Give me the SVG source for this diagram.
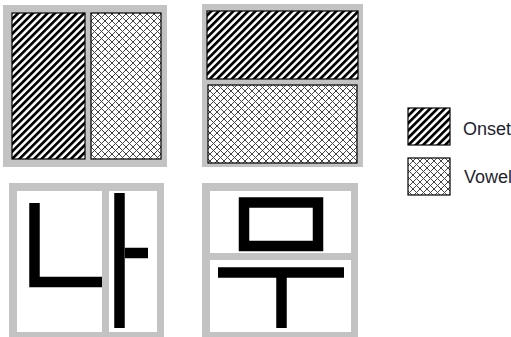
<svg xmlns="http://www.w3.org/2000/svg" width="511" height="337" viewBox="0 0 511 337">
  <style>
    .frame { fill: #c3c3c3; }
    .cell { fill: #ffffff; }
    .onset { fill: url(#hatch); stroke: #000; stroke-width: 1.2; }
    .vowel { fill: url(#cross); stroke: #000; stroke-width: 1.2; }
    .jamo { fill: none; stroke: #000; stroke-width: 10.5; stroke-linecap: butt; stroke-linejoin: miter; }
    .label { font-family: "Liberation Sans", Arial, sans-serif; font-size: 18px; fill: #1e1e2e; }
  </style>
  <defs>
    <pattern id="hatch" patternUnits="userSpaceOnUse" width="5.2" height="10" patternTransform="rotate(45)">
      <rect x="0" y="0" width="5.2" height="10" fill="#fff"/>
      <rect x="0" y="0" width="2.7" height="10" fill="#000"/>
    </pattern>
    <pattern id="cross" patternUnits="userSpaceOnUse" width="7" height="7">
      <rect x="0" y="0" width="7" height="7" fill="#fff"/>
      <path d="M0,0 L7,7 M7,0 L0,7" stroke="#444" stroke-width="1" fill="none"/>
    </pattern>
  </defs>

  <!-- Top-left: horizontal layout (onset | vowel) -->
  <g id="layout-horizontal">
    <rect class="frame" x="3" y="5" width="164" height="162"/>
    <rect class="onset" x="12" y="13" width="73" height="146"/>
    <rect class="vowel" x="91" y="13" width="70" height="146"/>
  </g>

  <!-- Top-right: vertical layout (onset over vowel) -->
  <g id="layout-vertical">
    <rect class="frame" x="202" y="4" width="161" height="163"/>
    <rect class="onset" x="207" y="11" width="151" height="68"/>
    <rect class="vowel" x="208" y="85" width="149" height="78"/>
  </g>

  <!-- Bottom-left: 나 -->
  <g id="syllable-na">
    <rect class="frame" x="9" y="183" width="155" height="154"/>
    <rect class="cell" x="17" y="191" width="85" height="141"/>
    <rect class="cell" x="109" y="191" width="48" height="141"/>
    <polyline class="jamo" points="34.5,203 34.5,282 102,282"/>
    <polyline class="jamo" points="119.5,193 119.5,328"/>
    <polyline class="jamo" points="125,253 148,253"/>
  </g>

  <!-- Bottom-right: 무 -->
  <g id="syllable-mu">
    <rect class="frame" x="202" y="183" width="156" height="154"/>
    <rect class="cell" x="210" y="191" width="141" height="62"/>
    <rect class="cell" x="210" y="260" width="141" height="72"/>
    <rect class="jamo" x="244" y="202.5" width="74" height="43.5"/>
    <polyline class="jamo" points="218,272.5 344,272.5"/>
    <polyline class="jamo" points="281.5,277 281.5,328"/>
  </g>

  <!-- Legend -->
  <g id="legend-onset">
    <rect class="onset" x="408" y="108" width="42" height="37"/>
    <text class="label" x="463" y="135">Onset</text>
  </g>
  <g id="legend-vowel">
    <rect class="vowel" x="408" y="158" width="42" height="37"/>
    <text class="label" x="464" y="183">Vowel</text>
  </g>

  <g id="connectors"/>
</svg>
